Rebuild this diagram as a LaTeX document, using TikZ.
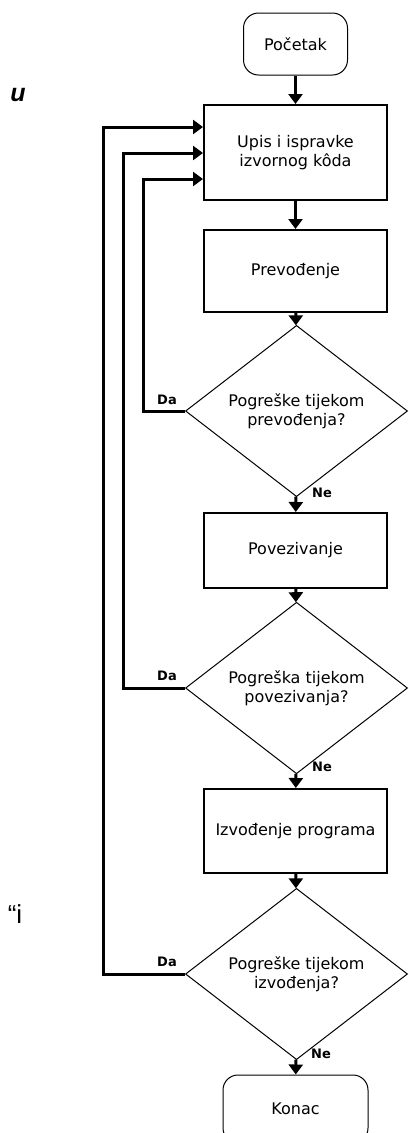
\documentclass[tikz,border=0pt]{standalone}
\usepackage{fontspec}
\setmainfont{DejaVu Sans}
\newfontfamily\libsans{Liberation Sans}
\usetikzlibrary{arrows.meta,shapes.geometric,calc}
\begin{document}
\begin{tikzpicture}[x=1pt,y=-1pt,
  txt/.style={font=\fontsize{16}{19}\selectfont, align=center},
  procbox/.style={txt, draw, line width=2pt, minimum width=183pt, inner sep=0pt},
  decbox/.style={txt, diamond, draw, line width=1pt, minimum width=222pt, minimum height=140pt, inner sep=0pt},
  termbox/.style={txt, draw, line width=1pt, rounded corners=15pt, inner sep=0pt},
  arr/.style={line width=3pt, -{Triangle[width=14pt,length=10pt]}},
  lab/.style={font=\bfseries\fontsize{13}{13}\selectfont, inner sep=0pt}
]
\useasboundingbox (0,0) rectangle (408,1133);
\fill[white] (0,0) rectangle (408,1133);
\clip (0,0) rectangle (408,1133);

\node[termbox, minimum width=104pt, minimum height=62pt] (start) at (295.5,44) {Početak};
\node[procbox, minimum height=95pt] (upis) at (295.5,152.5) {Upis i ispravke\\izvornog kôda};
\node[procbox, minimum height=82pt] (prev) at (295.5,271) {Prevođenje};
\node[decbox] (d1) at (296.5,411) {Pogreške tijekom\\prevođenja?};
\node[procbox, minimum height=75pt] (pov) at (295.5,550.5) {Povezivanje};
\node[decbox] (d2) at (296.5,688) {Pogreška tijekom\\povezivanja?};
\node[procbox, minimum height=84pt] (izv) at (295.5,831) {Izvođenje programa};
\node[decbox] (d3) at (296.5,974) {Pogreške tijekom\\izvođenja?};
\node[termbox, minimum width=145pt, minimum height=68pt] (konac) at (295.5,1109) {Konac};

\node[lab] (da1) at (167,400) {Da};
\node[lab] (da2) at (167,676) {Da};
\node[lab] (da3) at (167,962) {Da};
\node[lab] (ne1) at (322,493) {Ne};
\node[lab] (ne2) at (322,767) {Ne};
\node[lab] (ne3) at (321,1054) {Ne};

\node[font=\libsans\bfseries\itshape\fontsize{25}{25}\selectfont, inner sep=0pt] (u) at (18,95) {u};
\node[font=\libsans\fontsize{26}{26}\selectfont, inner sep=0pt] (qi) at (15,914) {“i};

\draw[arr] (start) -- (upis);
\draw[arr] (upis) -- (prev);
\draw[arr] (prev) -- (d1);
\draw[arr] (d1) -- (pov);
\draw[arr] (pov) -- (d2);
\draw[arr] (d2) -- (izv);
\draw[arr] (izv) -- (d3);
\draw[arr] (d3) -- (konac);

\coordinate (c1) at (143,179);
\coordinate (c2) at (123,153);
\coordinate (c3) at (103,127);
\draw[arr] (d1.west) -| (c1) -- (c1 -| upis.west);
\draw[arr] (d2.west) -| (c2) -- (c2 -| upis.west);
\draw[arr] (d3.west) -| (c3) -- (c3 -| upis.west);
\end{tikzpicture}
\end{document}
